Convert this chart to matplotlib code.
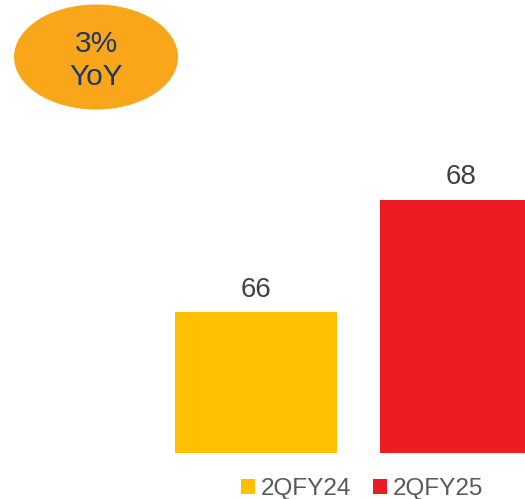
import matplotlib.pyplot as plt
from matplotlib.patches import Ellipse, Patch

plt.rcParams['font.family'] = ['Liberation Sans', 'DejaVu Sans']

periods = ['2QFY24', '2QFY25']
values = [66, 68]
colors = ['#FFC000', '#ED1C24']
growth_label = '3%\nYoY'
base = 63.5  # axis is not zero based in the source chart

fig = plt.figure(figsize=(5.25, 4.99), dpi=100)
ax = fig.add_axes([0, 0, 1, 1])

x = list(range(len(periods)))
ax.bar(x, [v - base for v in values], bottom=base, width=0.79, color=colors)
for xi, v in zip(x, values):
    ax.text(xi, v + 0.17, str(v), ha='center', va='bottom', fontsize=20, color='#404040')

ax.set_xlim(-1.249, 1.312)
ax.set_ylim(62.68, 71.56)
ax.axis('off')

# YoY bubble
fig.patches.append(Ellipse((0.1829, 0.8858), 0.3124, 0.2104, transform=fig.transFigure,
                           facecolor='#F9A61A', edgecolor='none'))
fig.text(0.1829, 0.879, growth_label, ha='center', va='center', fontsize=21.5,
         color='#1F3864', linespacing=1.25)

handles = [Patch(facecolor=c) for c in colors]
fig.legend(handles=handles, labels=periods, loc='lower center', bbox_to_anchor=(0.69, -0.046),
           ncol=2, frameon=False, fontsize=17.5, handlelength=0.55, handleheight=0.55,
           handletextpad=0.25, columnspacing=0.9, labelcolor='#595959')

fig.savefig('out.png', dpi=100)
